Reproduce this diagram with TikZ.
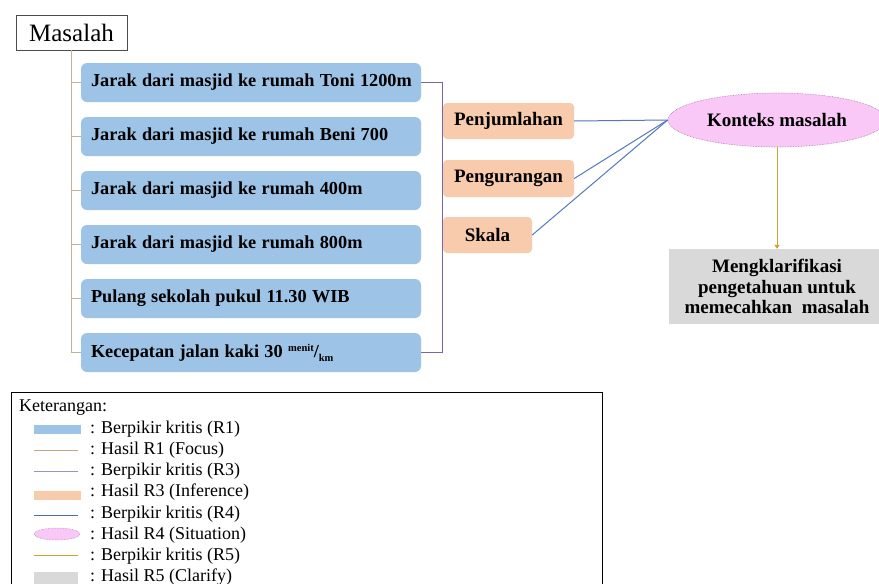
\documentclass[tikz,border=0pt]{standalone}
\usepackage{fontspec}
\setmainfont{Liberation Serif}
\usetikzlibrary{shapes.geometric,arrows.meta}

\definecolor{boxblue}{HTML}{9DC3E6}
\definecolor{boxorange}{HTML}{F8CBAD}
\definecolor{ellpink}{HTML}{F9C8F6}
\definecolor{ellborder}{HTML}{9A7A9A}
\definecolor{boxgray}{HTML}{D9D9D9}
\definecolor{trunktan}{HTML}{C4B09C}
\definecolor{bracketpurple}{HTML}{7E63A8}
\definecolor{linkblue}{HTML}{5577BB}
\definecolor{arrowgold}{HTML}{C9A230}
\definecolor{focustan}{HTML}{D4A47C}
\definecolor{rthree}{HTML}{9C90C4}
\definecolor{rfour}{HTML}{4A6FB0}

% one line of a fact box, left aligned and never wrapped
\newcommand{\factline}[1]{\makebox[320pt][l]{\spaceskip=5.3pt\relax #1}}

\tikzset{
  titlebox/.style={draw=black!70, line width=0.6pt, minimum width=111pt,
    minimum height=35pt, inner sep=0pt, font=\fontsize{25}{25}\selectfont},
  factbox/.style={fill=boxblue, rounded corners=6pt, minimum width=340pt,
    minimum height=39pt, inner xsep=10pt, inner ysep=0pt,
    font=\bfseries\fontsize{18.3}{21}\selectfont},
  opbox/.style={fill=boxorange, rounded corners=4pt, inner sep=0pt,
    minimum height=36pt, font=\bfseries\fontsize{19}{21}\selectfont},
  contextell/.style={ellipse, fill=ellpink, draw=ellborder, densely dotted,
    line width=0.6pt, minimum width=218pt, minimum height=54pt, inner sep=0pt,
    font=\bfseries\fontsize{19}{21}\selectfont},
  clarifybox/.style={fill=boxgray, minimum width=216pt, minimum height=75pt,
    inner sep=0pt, align=center, font=\bfseries\fontsize{19}{20.5}\selectfont},
  trunk/.style={trunktan, line width=1pt},
  bracket/.style={bracketpurple, line width=1pt},
  link/.style={linkblue, line width=1pt},
  goldarrow/.style={arrowgold, line width=1pt, -{Triangle[width=5pt,length=4pt]}},
  keyframe/.style={draw=black, line width=1.4pt, minimum width=591pt,
    minimum height=210pt, inner sep=0pt},
  keytext/.style={anchor=west, inner sep=0pt, font=\fontsize{18}{18}\selectfont},
  swatch/.style={inner sep=0pt, minimum width=47pt, minimum height=9pt}
}

\begin{document}
\begin{tikzpicture}[x=1pt,y=-1pt]
\useasboundingbox (0,0) rectangle (879,584);

% root of the problem tree
\node[titlebox] (mas) at (71.5,32.5) {Masalah};

% known facts
\node[factbox] (b1) at (251,82.5)  {\factline{Jarak dari masjid ke rumah Toni 1200m}};
\node[factbox] (b2) at (251,136.5) {\factline{Jarak dari masjid ke rumah Beni 700}};
\node[factbox] (b3) at (251,190.5) {\factline{Jarak dari masjid ke rumah 400m}};
\node[factbox] (b4) at (251,244.5) {\factline{Jarak dari masjid ke rumah 800m}};
\node[factbox] (b5) at (251,298.5) {\factline{Pulang sekolah pukul 11.30 WIB}};
\node[factbox] (b6) at (251,352.5) {\factline{Kecepatan jalan kaki 30
  \raisebox{6pt}{\fontsize{10.5}{10.5}\selectfont menit}/\raisebox{-4pt}{\fontsize{10.5}{10.5}\selectfont km}}};

% trunk with branches to every fact
\draw[trunk] (mas.south) |- (b6.west);
\foreach \b in {b1,b2,b3,b4,b5}
  \draw[trunk] (mas.south |- \b.west) -- (\b.west);

% bracket grouping the facts
\coordinate (br) at (442,82.5);
\draw[bracket] (b1.east) -- (br) |- (b6.east);

% operations
\node[opbox, minimum width=131pt] (pj) at (508.5,121)   {Penjumlahan};
\node[opbox, minimum width=131pt, minimum height=37pt] (pg) at (508.5,178.5) {Pengurangan};
\node[opbox, minimum width=89pt]  (sk) at (487.5,235)   {Skala};

% context of the problem
\node[contextell] (ctx) at (777,120) {Konteks masalah};
\draw[link] (pj.east) -- (ctx.west);
\draw[link] (pg.east) -- (ctx.west);
\draw[link] (sk.east) -- (ctx.west);

% clarification
\node[clarifybox] (cl) at (777,286.5) {Mengklarifikasi\\pengetahuan untuk\\memecahkan~ masalah};
\draw[goldarrow] (ctx.south) -- (cl.north);

% key
\node[keyframe, anchor=north west] (key) at (11,392) {};
\node[keytext] (kt) at (19,408) {Keterangan:};

\node[swatch, fill=boxblue] (s1) at (57.5,429.5) {};
\node[keytext] (k1) at (90,429) {: Berpikir kritis (R1)};

\draw[focustan, line width=0.8pt] (34,450) -- (78,450);
\node[keytext] (k2) at (90,450) {: Hasil R1 (Focus)};

\draw[rthree, line width=0.8pt] (34,471) -- (78,471);
\node[keytext] (k3) at (90,471) {: Berpikir kritis (R3)};

\node[swatch, fill=boxorange] (s4) at (57.5,495.5) {};
\node[keytext] (k4) at (90,492.5) {: Hasil R3 (Inference)};

\draw[rfour, line width=0.9pt] (34,515) -- (78,515);
\node[keytext] (k5) at (90,514) {: Berpikir kritis (R4)};

\node[ellipse, fill=ellpink, draw=ellborder, densely dotted, line width=0.5pt,
  minimum width=46pt, minimum height=12pt, inner sep=0pt] (s6) at (57,534) {};
\node[keytext] (k6) at (90,535) {: Hasil R4 (Situation)};

\draw[arrowgold, line width=0.9pt] (34,555) -- (78,555);
\node[keytext] (k7) at (90,556) {: Berpikir kritis (R5)};

\node[swatch, fill=boxgray, minimum width=44pt, minimum height=14pt] (s8) at (56,579) {};
\node[keytext] (k8) at (90,577) {: Hasil R5 (Clarify)};
\end{tikzpicture}
\end{document}
